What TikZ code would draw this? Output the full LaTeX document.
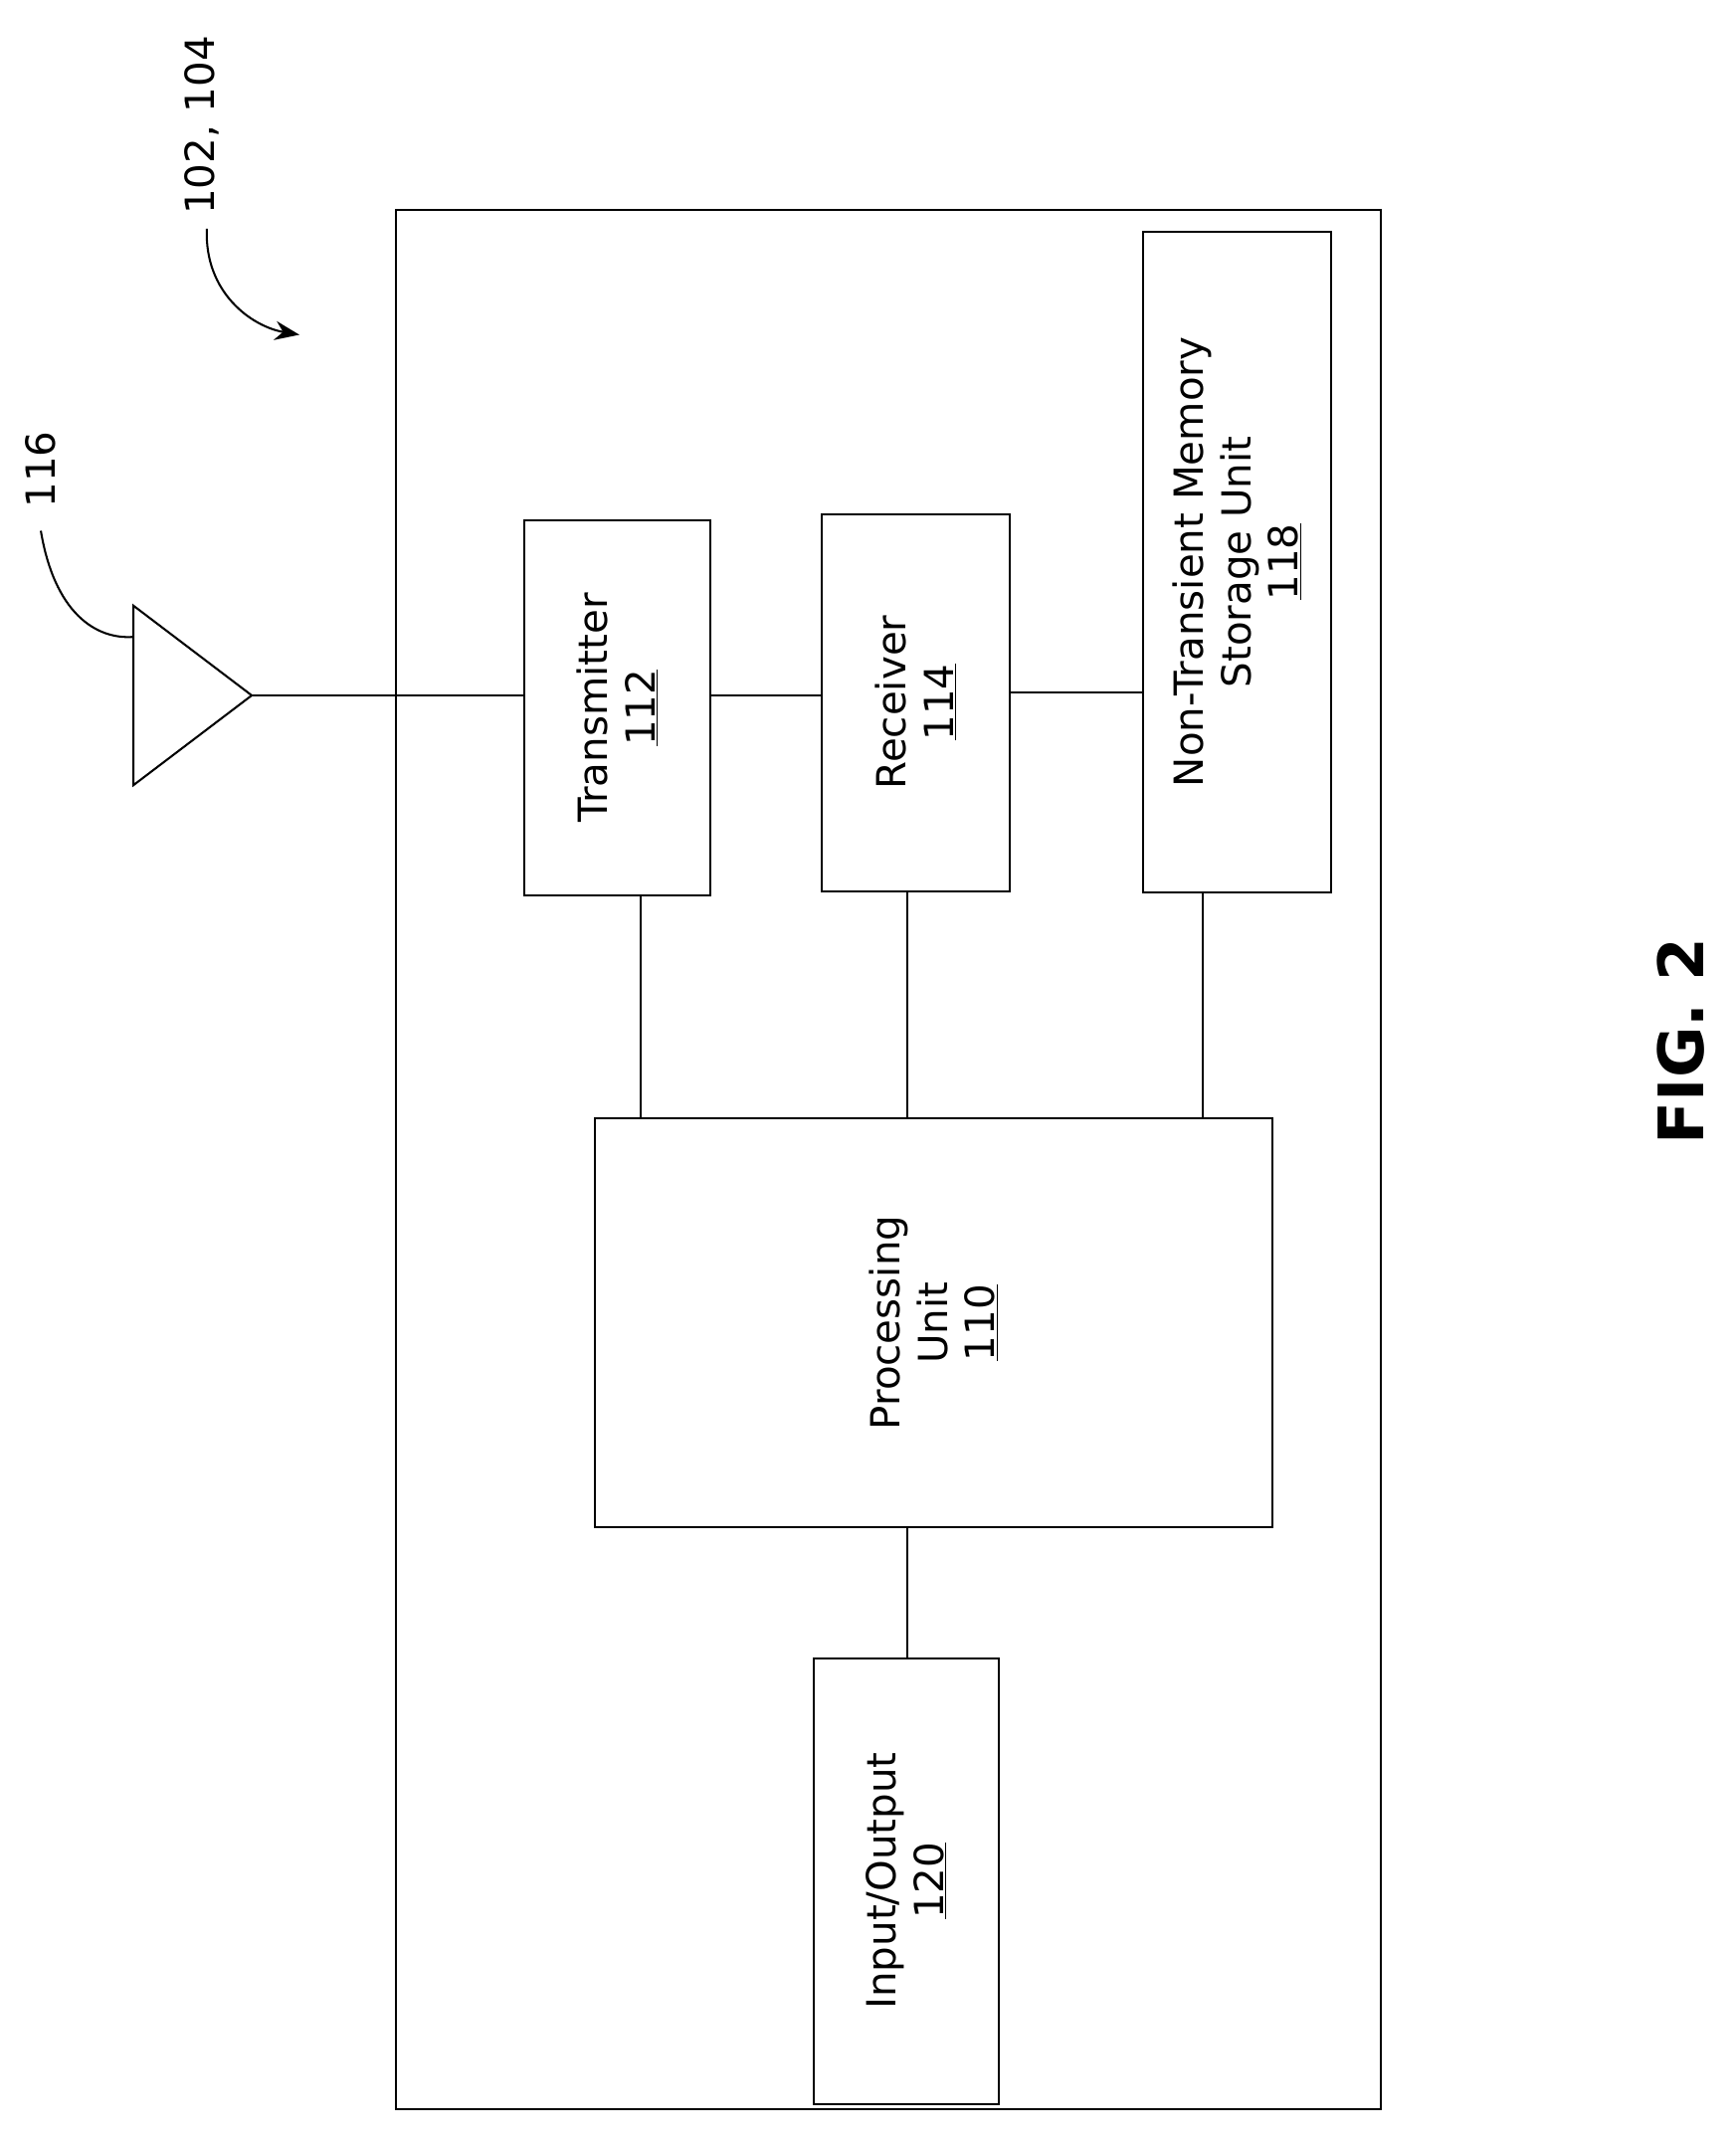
\documentclass[tikz,border=0pt]{standalone}
\usepackage{fontspec}
\setmainfont{DejaVu Sans}
\usetikzlibrary{arrows.meta}
\begin{document}
\begin{tikzpicture}[x=1pt,y=-1pt,line width=1.5pt,
  box/.style={draw,line width=1.5pt},
  lab/.style={rotate=90,align=center,font=\fontsize{29.5}{35}\selectfont}]
\useasboundingbox (0,0) rectangle (1275,1574);
\draw[box] (291,154) rectangle (1015,1550);
\draw[box] (385,382) rectangle (522,658);
\node[lab] (tx) at (453.5,520) {Transmitter\\\underline{112}};
\draw[box] (604,378) rectangle (742,655);
\node[lab] (rx) at (673,516) {Receiver\\\underline{114}};
\draw[box] (840,170) rectangle (978,656);
\node[lab] (mem) at (909,413) {Non-Transient Memory\\Storage Unit\\\underline{118}};
\draw[box] (437,822) rectangle (935,1122);
\node[lab] (pu) at (686,972) {Processing\\Unit\\\underline{110}};
\draw[box] (598,1219) rectangle (734,1546);
\node[lab] (io) at (666,1382) {Input/Output\\\underline{120}};
\draw (98,445) -- (98,577) -- (185,511) -- cycle;
\draw (185,511) -- (385,511);
\draw (522,511) -- (604,511);
\draw (742,509) -- (840,509);
\draw (471,658) -- (471,822);
\draw (667,655) -- (667,822);
\draw (884,656) -- (884,822);
\draw (667,1122) -- (667,1219);
\node[lab] (l116) at (30,345) {116};
\draw (30,390) .. controls (40,450) and (70,470) .. (98,468);
\node[lab] (l102) at (148,92) {102, 104};
\draw[-{Stealth[length=18pt,width=14pt]}] (152,168) .. controls (150,215) and (185,240) .. (220,246);
\node[rotate=90,font=\bfseries\fontsize{46}{52}\selectfont] (fig) at (1235,765) {FIG. 2};
\end{tikzpicture}
\end{document}
